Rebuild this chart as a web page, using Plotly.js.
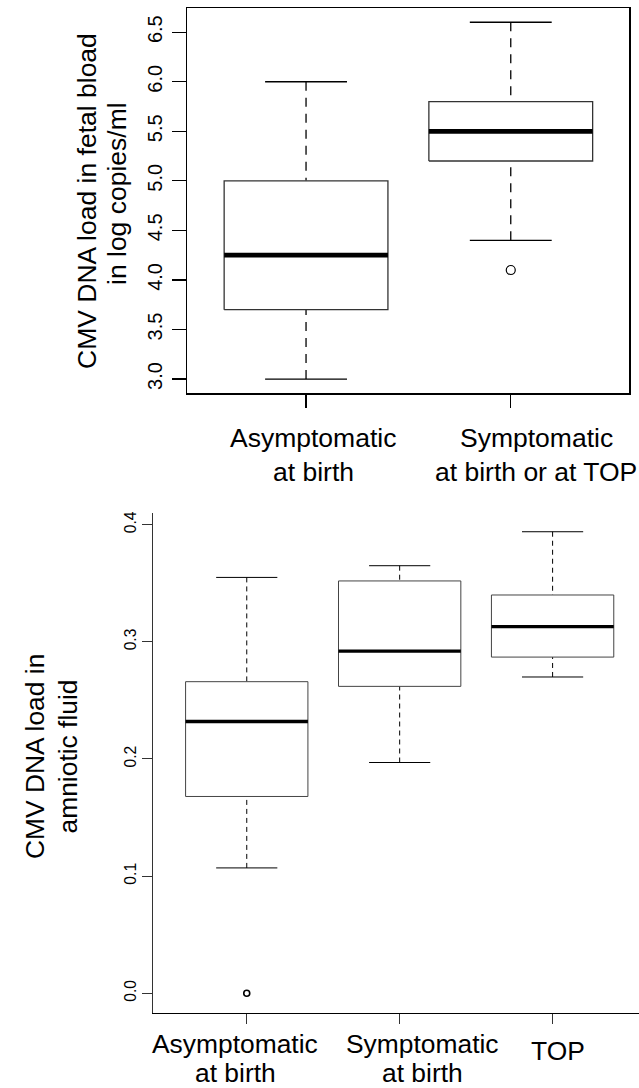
<!DOCTYPE html>
<html><head><meta charset="utf-8">
<script src="https://cdn.plot.ly/plotly-3.0.1.min.js"></script>
<style>html,body{margin:0;padding:0;background:#fff}#chart{width:639px;height:1088px}</style>
</head><body><div id="chart"></div>
<script>
// ---- Top panel: CMV DNA load in fetal blood (log copies/ml) ----
const fetalGroups = ["Asymptomatic<br>at birth", "Symptomatic<br>at birth or at TOP"];
const fetalLowerWhisker = [3.0, 4.4];
const fetalQ1 = [3.7, 5.2];
const fetalMedian = [4.25, 5.5];
const fetalQ3 = [5.0, 5.8];
const fetalUpperWhisker = [6.0, 6.6];
const fetalOutliers = [[], [4.1]];
const fetalTicks = [3.0, 3.5, 4.0, 4.5, 5.0, 5.5, 6.0, 6.5];
const fetalTitle = ["CMV DNA load in fetal bload", "in log copies/ml"];

// ---- Bottom panel: CMV DNA load in amniotic fluid ----
const amnioGroups = ["Asymptomatic<br>at birth", "Symptomatic<br>at birth", "TOP"];
const amnioLowerWhisker = [0.107, 0.197, 0.270];
const amnioQ1 = [0.168, 0.262, 0.287];
const amnioMedian = [0.232, 0.292, 0.313];
const amnioQ3 = [0.266, 0.352, 0.340];
const amnioUpperWhisker = [0.355, 0.365, 0.394];
const amnioOutliers = [[0.0], [], []];
const amnioTicks = [0.0, 0.1, 0.2, 0.3, 0.4];
const amnioTitle = ["CMV DNA load in", "amniotic fluid"];

const FONT = "Liberation Sans, Arial, Helvetica, sans-serif";

function boxTraces(lw, q1, med, q3, uw, outs, xa, ya, st) {
  const tr = [];
  const hb = 0.4, hs = 0.2;
  for (let i = 0; i < q1.length; i++) {
    const c = i + 1;
    const base = {type: "scatter", mode: "lines", xaxis: xa, yaxis: ya, hoverinfo: "skip", showlegend: false};
    // whiskers (drawn from staple toward box, dashed)
    tr.push(Object.assign({}, base, {x: [c, c], y: [uw[i], q3[i]], line: {color: "#000", width: st.lw, dash: st.dash}}));
    tr.push(Object.assign({}, base, {x: [c, c], y: [lw[i], q1[i]], line: {color: "#000", width: st.lw, dash: st.dash}}));
    // staples
    tr.push(Object.assign({}, base, {x: [c - hs, c + hs], y: [uw[i], uw[i]], line: {color: "#000", width: st.lw}}));
    tr.push(Object.assign({}, base, {x: [c - hs, c + hs], y: [lw[i], lw[i]], line: {color: "#000", width: st.lw}}));
    // box
    tr.push(Object.assign({}, base, {x: [c - hb, c + hb, c + hb, c - hb, c - hb], y: [q1[i], q1[i], q3[i], q3[i], q1[i]],
      fill: "toself", fillcolor: "#fff", line: {color: st.boxColor, width: st.lw}}));
    // median
    tr.push(Object.assign({}, base, {x: [c - hb, c + hb], y: [med[i], med[i]], line: {color: "#000", width: st.medW}}));
    // outliers
    if (outs[i].length) {
      tr.push({type: "scatter", mode: "markers", xaxis: xa, yaxis: ya, hoverinfo: "skip", showlegend: false,
        x: outs[i].map(() => c), y: outs[i],
        marker: {symbol: "circle-open", size: st.outSize, color: "#000", line: {width: st.outLw, color: "#000"}}});
    }
  }
  return tr;
}

const traces = [].concat(
  boxTraces(fetalLowerWhisker, fetalQ1, fetalMedian, fetalQ3, fetalUpperWhisker, fetalOutliers, "x", "y",
    {lw: 1.3, dash: "9px,7px", medW: 4.7, boxColor: "#333", outSize: 9, outLw: 1.2}),
  boxTraces(amnioLowerWhisker, amnioQ1, amnioMedian, amnioQ3, amnioUpperWhisker, amnioOutliers, "x2", "y2",
    {lw: 1, dash: "5px,4px", medW: 3.3, boxColor: "#444", outSize: 6, outLw: 1.6})
);

const W = 639, H = 1088;
const px = v => v / W, py = v => 1 - v / H;

const annotations = [];
function addLabel(text, xref, x, xshift, yPix, size) {
  annotations.push({text: text, xref: xref, yref: "paper", x: x, xshift: xshift, y: py(yPix), yanchor: "middle",
    xanchor: "center", showarrow: false, font: {family: FONT, size: size, color: "#000"}});
}
// category labels (one annotation per text line)
const fetalShift = [7, 25.5];
const fetalLineY = [438, 471.5];
fetalGroups.forEach((g, i) => {
  g.split("<br>").forEach((ln, j) => addLabel(ln, "x", i + 1, fetalShift[i], fetalLineY[j], 26.5));
});
const amnioShift = [-11.5, 23, 5.5];
const amnioLineY = [1043.5, 1072.5];
amnioGroups.forEach((g, i) => {
  const lines = g.split("<br>");
  lines.forEach((ln, j) => addLabel(ln, "x2", i + 1, amnioShift[i], lines.length === 1 ? 1050.5 : amnioLineY[j], 26.4));
});
// y-axis titles (rotated)
const fetalTitleX = [87, 117], fetalTitleY = [201, 194];
fetalTitle.forEach((t, j) => annotations.push({text: t, xref: "paper", yref: "paper", x: px(fetalTitleX[j]), y: py(fetalTitleY[j]),
  xanchor: "center", yanchor: "middle", textangle: -90, showarrow: false, font: {family: FONT, size: 26.5, color: "#000"}}));
const amnioTitleX = [35, 67.5];
amnioTitle.forEach((t, j) => annotations.push({text: t, xref: "paper", yref: "paper", x: px(amnioTitleX[j]), y: py(757),
  xanchor: "center", yanchor: "middle", textangle: -90, showarrow: false, font: {family: FONT, size: 26.4, color: "#000"}}));

const commonAxis = {showgrid: false, zeroline: false, showline: true, linecolor: "#000", ticks: "outside",
  tickcolor: "#000", fixedrange: true};

const layout = {
  width: W, height: H, margin: {l: 0, r: 0, t: 0, b: 0}, paper_bgcolor: "#fff", plot_bgcolor: "#fff",
  showlegend: false, font: {family: FONT, color: "#000"},
  xaxis: Object.assign({}, commonAxis, {domain: [px(187.3), px(629.3)], range: [0.42, 2.579], anchor: "y",
    tickvals: fetalGroups.map((_, i) => i + 1), showticklabels: false, ticklen: 13, tickwidth: 1.3, linewidth: 1.3, mirror: true}),
  yaxis: Object.assign({}, commonAxis, {domain: [py(393.3), py(8)], range: [2.856, 6.744], anchor: "x",
    tickvals: fetalTicks, ticktext: fetalTicks.map(v => v.toFixed(1)), tickangle: -90, ticklen: 14, tickwidth: 1.3,
    ticklabelstandoff: 2, linewidth: 1.3, mirror: true, tickfont: {family: FONT, size: 20, color: "#000"}}),
  xaxis2: Object.assign({}, commonAxis, {domain: [px(152.7), 1], range: [0.385, 3.565], anchor: "y2",
    tickvals: amnioGroups.map((_, i) => i + 1), showticklabels: false, ticklen: 10, tickwidth: 1, linewidth: 1, tickcolor: "#333"}),
  yaxis2: Object.assign({}, commonAxis, {domain: [py(1012.7), py(513)], range: [-0.0166, 0.410], anchor: "x2",
    tickvals: amnioTicks, ticktext: amnioTicks.map(v => v.toFixed(1)), tickangle: -90, ticklen: 9.5, tickwidth: 1,
    linewidth: 1, linecolor: "#333", tickcolor: "#333", tickfont: {family: FONT, size: 15.6, color: "#000"}}),
  annotations: annotations
};

Plotly.newPlot("chart", traces, layout, {displayModeBar: false, staticPlot: true});
</script>
</body></html>
